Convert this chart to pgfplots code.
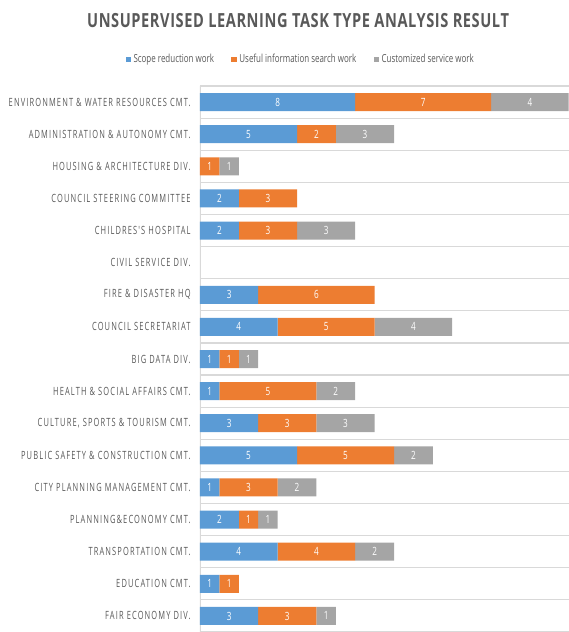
\documentclass[border=0pt]{standalone}
\usepackage{fontspec}
\setmainfont{Open Sans}
\newfontfamily\condfont[FakeStretch=0.72]{Open Sans}
\newfontfamily\labfont[FakeStretch=0.66,LetterSpace=10]{Open Sans}
\newfontfamily\titlefont[FakeStretch=0.75,LetterSpace=3]{Open Sans}
\usepackage{pgfplots}
\usepackage{pgfplotstable}
\pgfplotsset{compat=1.18}
\definecolor{cblue}{HTML}{5B9BD5}
\definecolor{corange}{HTML}{ED7D31}
\definecolor{cgray}{HTML}{A5A5A5}
\definecolor{txt}{HTML}{595959}
\definecolor{grd}{HTML}{D9D9D9}
\pgfplotstableread{
y a b c
0 8 7 4
1 5 2 3
2 0 1 1
3 2 3 0
4 2 3 3
5 0 0 0
6 3 6 0
7 4 5 4
8 1 1 1
9 1 5 2
10 3 3 3
11 5 5 2
12 1 3 2
13 2 1 1
14 4 4 2
15 1 1 0
16 3 3 1
}\data
\pgfplotsset{
  vallabels/.style={
    point meta=\thisrow{#1},
    nodes near coords={\pgfmathfloatifflags{\pgfplotspointmeta}{0}{}{\pgfmathprintnumber[assume math mode=true]{\pgfplotspointmeta}}},
    every node near coord/.style={anchor=center, text=white, font=\condfont\fontsize{8.5}{10}\selectfont},
  }
}
\begin{document}
\begin{tikzpicture}
\begin{axis}[
  at={(150pt,-64.5pt)}, anchor=north west,
  scale only axis, width=276.5pt, height=409.5pt,
  xbar stacked, bar width=13.5pt,
  xmin=0, xmax=19,
  ymin=-0.5, ymax=16.5, y dir=reverse,
  axis line style={draw=none},
  xtick=\empty,
  ytick={0,...,16},
  yticklabels={ENVIRONMENT \& WATER RESOURCES CMT., ADMINISTRATION \& AUTONOMY CMT., HOUSING \& ARCHITECTURE DIV., COUNCIL STEERING COMMITTEE, CHILDRES'S HOSPITAL, CIVIL SERVICE DIV., FIRE \& DISASTER HQ, COUNCIL SECRETARIAT, BIG DATA DIV., HEALTH \& SOCIAL AFFAIRS CMT., {CULTURE, SPORTS \& TOURISM CMT.}, PUBLIC SAFETY \& CONSTRUCTION CMT., CITY PLANNING MANAGEMENT CMT., PLANNING\&ECONOMY CMT., TRANSPORTATION CMT., EDUCATION CMT., FAIR ECONOMY DIV.},
  yticklabel style={font=\labfont\fontsize{8.5}{10}\selectfont, text=txt, xshift=-3.5pt},
  major tick length=0pt, minor tick length=0pt,
  minor ytick={-0.5,0.5,...,16.5},
  yminorgrids=true,
  minor grid style={grd, line width=0.9pt},
  title={UNSUPERVISED LEARNING TASK TYPE ANALYSIS RESULT},
  title style={at={(0.266,1.106)}, anchor=center, font=\titlefont\bfseries\fontsize{14.6}{17}\selectfont, text=txt},
  legend style={at={(0.274,1.049)}, anchor=center, draw=none, font=\condfont\fontsize{8.3}{10}\selectfont, text=txt, legend columns=3, /tikz/every even column/.append style={column sep=11pt}},
  legend image code/.code={\fill[#1] (0pt,-2pt) rectangle (4pt,2pt);},
]
\addplot[fill=cblue, draw=none, vallabels=a] table[x=a,y=y]{\data};
\addplot[fill=corange, draw=none, vallabels=b] table[x=b,y=y]{\data};
\addplot[fill=cgray, draw=none, vallabels=c] table[x=c,y=y]{\data};
\legend{Scope reduction work, Useful information search work, Customized service work}
\draw[grd, line width=0.9pt] (axis cs:0,-0.5) -- (axis cs:0,16.5);
\end{axis}
\pgfresetboundingbox
\useasboundingbox (0,0) rectangle (426pt,-474pt);
\end{tikzpicture}
\end{document}
